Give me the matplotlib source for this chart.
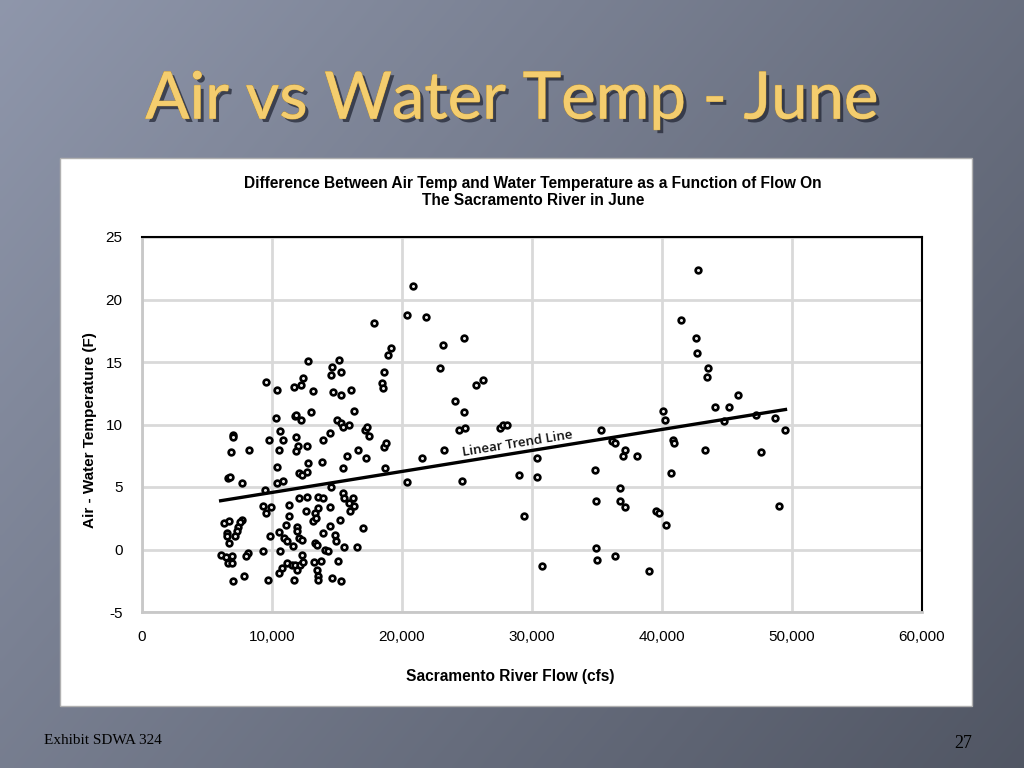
import numpy as np
import matplotlib
matplotlib.use("Agg")
import matplotlib.pyplot as plt
import matplotlib.patheffects as pe
from matplotlib.patches import Rectangle
from matplotlib.ticker import FuncFormatter

plt.rcParams["font.family"] = ["Liberation Sans", "DejaVu Sans"]
plt.rcParams["axes.unicode_minus"] = False

# ── data ────────────────────────────────────────────────────────────────────
flow_cfs = [
    17870, 12745, 15130, 14640, 14540, 15280, 9515, 12410, 12250, 10385,
    11670, 13150, 14720, 15280, 16050, 16280, 13000, 10330, 11740, 11850,
    12200, 15030, 15280, 15490, 15920, 17150, 17310, 17440, 6975, 7020,
    10620, 9740, 10870, 11870, 13920, 14440, 6850, 8210, 10510, 11980,
    12720, 11870, 16590, 15740, 17230, 13870, 12790, 10380, 15460, 12100,
    12310, 12720, 6620, 6770, 7690, 10410, 10850, 9490, 14540, 12080,
    12720, 13540, 13950, 15490, 15560, 16200, 11310, 14440, 15920, 16330,
    9330, 9920, 9560, 12640, 13560, 13330, 15970, 11330, 13130, 13380,
    15210, 6330, 6720, 7720, 7540, 7360, 7280, 7180, 11080, 11900,
    11920, 14490, 17020, 6540, 6510, 9820, 10510, 10900, 11180, 12080,
    12280, 13900, 14820, 6720, 11640, 13310, 13490, 14950, 15510, 16510,
    14080, 14280, 9330, 10590, 6050, 6460, 6900, 8180, 8000, 12280,
    15050, 6640, 6900, 11180, 11510, 11770, 12150, 12410, 13260, 13740,
    10740, 10540, 11900, 13490, 7820, 6980, 9690, 11690, 13540, 13560,
    14640, 15280,
    18620, 18460, 18540, 19180, 18920, 18620, 18770, 18670, 20360, 20870,
    20360, 21850, 23180, 24770, 22950, 26210, 25670, 24080, 24790, 24360,
    24870, 27510, 27770, 28050, 23230, 21510, 24640, 30410, 29000, 30360,
    29380, 30740, 35310, 36130, 36380, 37130, 37000, 38050, 34850, 36740,
    34920, 36770, 37130, 39560, 39790, 40330, 34950, 34970, 36410, 38970,
    40100, 40230, 40820, 40950, 40670, 41440, 42770, 42620, 42720, 43560,
    43480, 45820, 44080, 45180, 48690, 49440, 44790, 47210, 43280, 47620,
    49030,
]
temp_diff_f = [
    18.1, 15.1, 15.2, 14.6, 14.0, 14.2, 13.4, 13.7, 13.2, 12.8,
    13.0, 12.7, 12.6, 12.4, 12.8, 11.1, 11.0, 10.5, 10.7, 10.8,
    10.4, 10.4, 10.1, 9.8, 10.0, 9.6, 9.8, 9.1, 9.2, 9.0,
    9.5, 8.8, 8.8, 9.0, 8.8, 9.3, 7.8, 8.0, 8.0, 8.3,
    8.3, 7.9, 8.0, 7.5, 7.3, 7.0, 6.9, 6.6, 6.5, 6.1,
    6.0, 6.2, 5.7, 5.8, 5.3, 5.3, 5.5, 4.8, 5.0, 4.1,
    4.2, 4.2, 4.1, 4.5, 4.1, 4.1, 3.6, 3.4, 3.7, 3.5,
    3.5, 3.4, 2.9, 3.1, 3.3, 2.9, 3.1, 2.7, 2.3, 2.5,
    2.4, 2.1, 2.3, 2.4, 2.2, 1.8, 1.5, 1.1, 2.0, 1.8,
    1.5, 1.9, 1.7, 1.3, 1.1, 1.1, 1.4, 0.9, 0.7, 0.9,
    0.8, 1.3, 1.2, 0.5, 0.3, 0.5, 0.4, 0.7, 0.2, 0.2,
    0.0, -0.1, -0.1, -0.1, -0.4, -0.6, -0.5, -0.3, -0.5, -0.4,
    -0.9, -1.1, -1.1, -1.1, -1.2, -1.2, -1.2, -1.0, -1.0, -0.9,
    -1.5, -1.9, -1.6, -1.6, -2.1, -2.5, -2.4, -2.4, -2.1, -2.4,
    -2.3, -2.5,
    14.2, 13.3, 12.9, 16.1, 15.6, 8.2, 8.5, 6.5, 5.4, 21.1,
    18.8, 18.6, 16.4, 16.9, 14.5, 13.6, 13.2, 11.9, 11.0, 9.6,
    9.7, 9.7, 10.0, 10.0, 8.0, 7.3, 5.5, 7.3, 6.0, 5.8,
    2.7, -1.3, 9.6, 8.7, 8.5, 8.0, 7.5, 7.5, 6.4, 4.9,
    3.9, 3.9, 3.4, 3.1, 2.9, 2.0, 0.1, -0.8, -0.5, -1.7,
    11.1, 10.4, 8.8, 8.5, 6.1, 18.4, 22.4, 16.9, 15.7, 14.5,
    13.8, 12.4, 11.4, 11.4, 10.5, 9.6, 10.3, 10.8, 8.0, 7.8,
    3.5,
]

# linear trend line end points as drawn in the chart
trend_x = [6050, 49500]
trend_y = [3.9, 11.2]

x_ticks = [0, 10000, 20000, 30000, 40000, 50000, 60000]
y_ticks = [-5, 0, 5, 10, 15, 20, 25]

# ── slide background ────────────────────────────────────────────────────────
fig = plt.figure(figsize=(10.24, 7.68), dpi=100)

bg = fig.add_axes([0, 0, 1, 1], zorder=-10)
gx, gy = np.meshgrid(np.linspace(0, 1, 256), np.linspace(0, 1, 192))
t = np.clip(0.55 * gx + 0.35 * gy, 0, 1)           # gy=0 is top row
light = np.array([0.56, 0.59, 0.67])
dark = np.array([0.29, 0.31, 0.36])
img = light[None, None, :] * (1 - t[..., None]) + dark[None, None, :] * t[..., None]
bg.imshow(img, aspect="auto", extent=[0, 1, 0, 1], interpolation="bilinear")
bg.set_xlim(0, 1)
bg.set_ylim(0, 1)
bg.axis("off")

# white chart panel
fig.patches.append(Rectangle((60 / 1024, 1 - 706 / 768), 912 / 1024, 548 / 768,
                             transform=fig.transFigure, facecolor="white",
                             edgecolor="#b0b0b0", linewidth=1, zorder=-5))

# slide title
fig.text(0.5, 1 - 100 / 768, "Air vs Water Temp - June", ha="center", va="center",
         fontsize=47, color="#F4CD6E", family=["Lato", "DejaVu Sans"],
         path_effects=[pe.withSimplePatchShadow(offset=(2.5, -2.5), shadow_rgbFace="#1e2230",
                                                alpha=0.7),
                       pe.withStroke(linewidth=0.8, foreground="#b8923c"),
                       pe.Normal()])

# footer
fig.text(44 / 1024, 1 - 740 / 768, "Exhibit SDWA 324", ha="left", va="center",
         fontsize=11, family=["Liberation Serif"], color="black")
fig.text(972 / 1024, 1 - 744 / 768, "27", ha="right", va="center",
         fontsize=13, family=["Liberation Serif"], color="black")

# ── chart ───────────────────────────────────────────────────────────────────
ax = fig.add_axes([142 / 1024, 1 - 612 / 768, 780 / 1024, 375 / 768])
ax.set_facecolor("white")
ax.scatter(flow_cfs, temp_diff_f, s=17, facecolor="#e8e8e8", edgecolor="black",
           linewidth=1.9, zorder=3)
ax.plot(trend_x, trend_y, color="black", linewidth=2.4, zorder=4)

ax.text(28870, 8.5, "Linear Trend Line", rotation=9.2, ha="center", va="center",
        rotation_mode="anchor", fontsize=9.5, fontweight="semibold",
        family=["Open Sans", "DejaVu Sans"], color="#111111", zorder=5)

ax.set_xlim(0, 60000)
ax.set_ylim(-5, 25)
ax.set_xticks(x_ticks)
ax.set_yticks(y_ticks)
ax.xaxis.set_major_formatter(FuncFormatter(lambda v, p: f"{int(v):,}"))
ax.tick_params(length=0, labelsize=11, colors="black")
ax.tick_params(axis="x", pad=13)
ax.tick_params(axis="y", pad=14)
ax.grid(True, color="#d9d9d9", linewidth=2)
ax.set_axisbelow(True)

for side in ("top", "right"):
    ax.spines[side].set_color("black")
    ax.spines[side].set_linewidth(1.5)
for side in ("left", "bottom"):
    ax.spines[side].set_color("#c8c8c8")
    ax.spines[side].set_linewidth(2)

fig.text(533 / 1024, 1 - 192 / 768,
         "Difference Between Air Temp and Water Temperature as a Function of Flow On\n"
         "The Sacramento River in June",
         ha="center", va="center", fontsize=11.2, fontweight="bold", linespacing=1.15)
fig.text(510 / 1024, 1 - 677 / 768, "Sacramento River Flow (cfs)",
         ha="center", va="center", fontsize=11.2, fontweight="bold")
fig.text(90 / 1024, 1 - 430 / 768, "Air - Water Temperature (F)", rotation=90,
         ha="center", va="center", fontsize=11, fontweight="bold")

fig.savefig("out.png", dpi=100)
